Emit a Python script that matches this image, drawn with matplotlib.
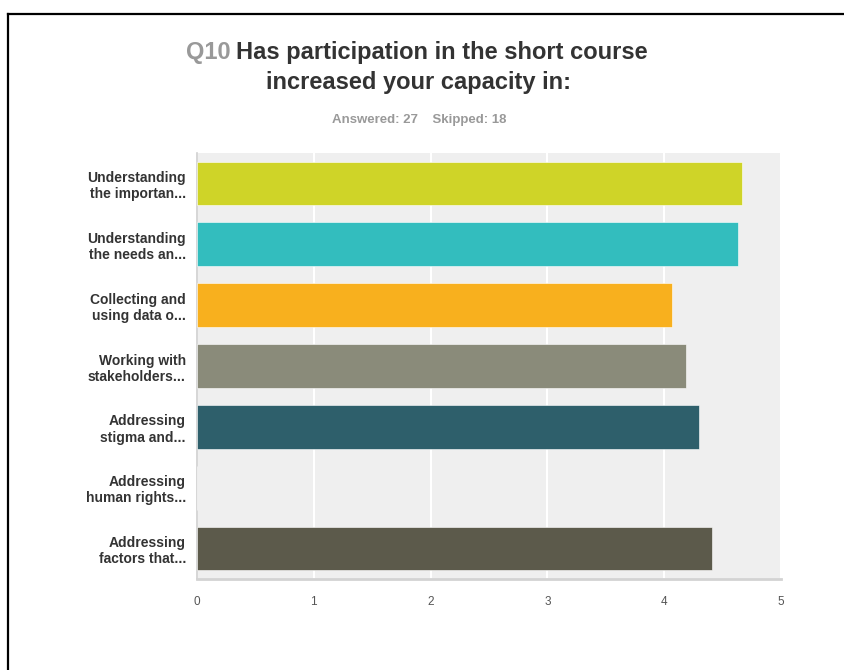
import matplotlib.pyplot as plt
from matplotlib.lines import Line2D

# Survey answers: weighted average score per item (0-5 scale)
labels = [
    "Understanding\nthe importan...",
    "Understanding\nthe needs an...",
    "Collecting and\nusing data o...",
    "Working with\nstakeholders...",
    "Addressing\nstigma and...",
    "Addressing\nhuman rights...",
    "Addressing\nfactors that...",
]
scores = [4.67, 4.63, 4.07, 4.19, 4.30, 0, 4.41]
colors = ["#cfd428", "#33bdbe", "#f8b01e", "#8a8b7a", "#2e5f6b", "#2e5f6b", "#5c5a4b"]
xticks = [0, 1, 2, 3, 4, 5]

W, H = 844, 670
fig = plt.figure(figsize=(W / 100, H / 100), dpi=100)
fig.patch.set_facecolor("white")

sans = ["Liberation Sans", "DejaVu Sans"]

# frame lines on the top and left edges
fig.add_artist(Line2D([8 / W, 1], [1 - 14 / H, 1 - 14 / H], color="black", lw=1.6))
fig.add_artist(Line2D([8 / W, 8 / W], [0, 1 - 14 / H], color="black", lw=1.6))

# title, with the question number in grey
fig.text(186 / W, 1 - 53 / H, "Q10", color="#999999", fontsize=17, fontweight="bold",
         family=sans, va="center", ha="left")
fig.text(236 / W, 1 - 53 / H, "Has participation in the short course", color="#333333",
         fontsize=17, fontweight="bold", family=sans, va="center", ha="left")
fig.text(419 / W, 1 - 83 / H, "increased your capacity in:", color="#333333",
         fontsize=17, fontweight="bold", family=sans, va="center", ha="center")
fig.text(419 / W, 1 - 120 / H, "Answered: 27    Skipped: 18", color="#999999",
         fontsize=9.5, fontweight="bold", family=sans, va="center", ha="center")

left, right, top, bottom = 197, 781, 153, 579
ax = fig.add_axes([left / W, 1 - bottom / H, (right - left) / W, (bottom - top) / H])
ax.set_facecolor("#efefef")

ypos = list(range(len(labels)))
ax.barh(ypos, scores, height=0.72, color=colors, edgecolor="white", linewidth=0.4, zorder=3)

ax.set_xlim(0, 5)
ax.set_ylim(len(labels) - 0.5, -0.5)
ax.set_xticks(xticks)
ax.set_xticklabels([str(t) for t in xticks], family=sans, fontsize=8.5, color="#555555")
ax.set_yticks(ypos)
ax.set_yticklabels(labels, family=sans, fontsize=10, fontweight="bold", color="#333333",
                   linespacing=1.2)
ax.tick_params(axis="both", length=0)
ax.tick_params(axis="x", pad=12)
ax.tick_params(axis="y", pad=8)
ax.xaxis.grid(True, color="white", lw=1.5, zorder=1)
ax.set_axisbelow(True)

for side in ("top", "right"):
    ax.spines[side].set_visible(False)
ax.spines["left"].set_color("#d0d0d0")
ax.spines["left"].set_linewidth(1.2)
ax.spines["bottom"].set_color("#d3d3d3")
ax.spines["bottom"].set_linewidth(2)

fig.savefig("out.png", dpi=100, facecolor="white")
